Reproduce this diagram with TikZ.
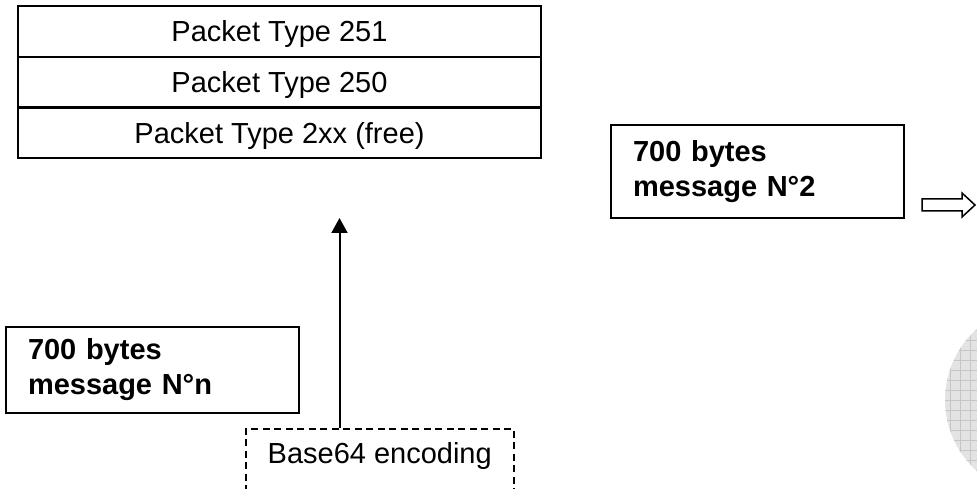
\documentclass[tikz,border=0pt]{standalone}
\usepackage{fontspec}
\setmainfont{Liberation Sans}
\usetikzlibrary{arrows.meta}
\definecolor{logofill}{RGB}{227,227,227}
\definecolor{logogrid}{RGB}{198,198,198}
\tikzset{
  pktrow/.style={draw, line width=2pt, minimum width=523pt, minimum height=51pt,
    inner sep=0pt, text height=26pt, text depth=5pt,
    font=\fontsize{29pt}{35pt}\selectfont},
  msgbox/.style={draw, line width=2pt, anchor=north west, inner xsep=22pt,
    text width=249pt, align=left, font=\bfseries\fontsize{29pt}{35pt}\selectfont},
  encbox/.style={draw, line width=1.5pt, dash pattern=on 7pt off 4.5pt,
    anchor=north west, minimum width=268pt, inner xsep=0pt, inner ysep=14pt,
    text height=21pt, text depth=14pt, font=\fontsize{29pt}{35pt}\selectfont},
  uparrow/.style={line width=2pt, -{Triangle[length=15pt,width=16pt]}}
}
\begin{document}
\begin{tikzpicture}[x=1pt, y=-1pt]
            \useasboundingbox (0,0) rectangle (977,489);
            % Packet types
            \node[pktrow] (row251) at (279.5,31.5) {Packet Type 251};
            \node[pktrow] (row250) at (279.5,82.5) {Packet Type 250};
            \node[pktrow] (row2xx) at (279.5,133) {Packet Type 2xx (free)};
            % Messages
            \node[msgbox, minimum height=93pt] (msg2) at (610,124) {700 bytes\\message N°2};
            \node[msgbox, minimum height=86pt] (msgn) at (5,326) {700 bytes\\message N°n};
            % Encoding
            \node[encbox] (b64) at (245,428) {Base64 encoding};
            \coordinate (tip) at (339.5,218);
            \draw[uparrow] (b64.north -| tip) -- (tip);
            % Hollow arrow
            \draw[line width=1.5pt, line join=miter] (922,199) -- (962,199) -- (962,193) -- (975,205)
              -- (962,217) -- (962,211) -- (922,211) -- cycle;
            % Logo
            \begin{scope}
              \clip (1040,400) circle (95);
              \fill[logofill] (1040,400) circle (95);
              \draw[logogrid, line width=0.8pt, xstep=10pt, ystep=10pt] (930,300) grid (990,500);
              \fill[white] (995,395) circle (18);
            \end{scope}
        \end{tikzpicture}
\end{document}
